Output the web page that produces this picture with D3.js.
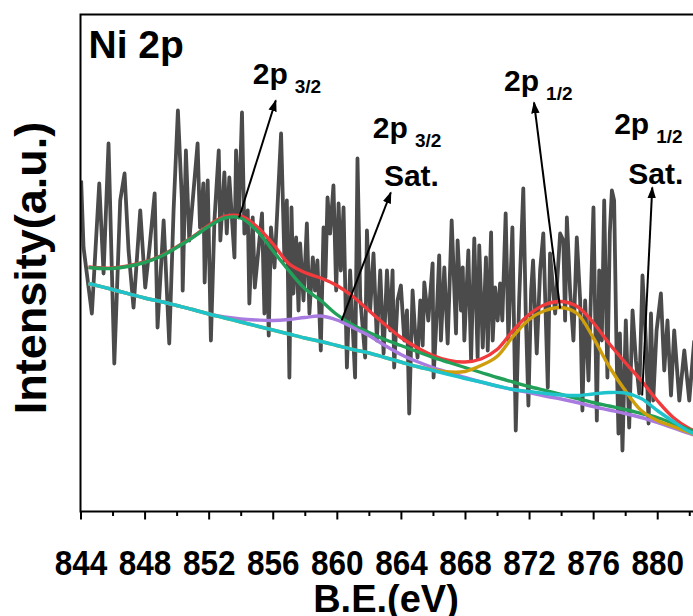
<!DOCTYPE html>
<html>
<head>
<meta charset="utf-8">
<script src="https://cdn.jsdelivr.net/npm/d3@7"></script>
<style>
  body { margin: 0; background: #fff; }
  svg { display: block; font-family: "Liberation Sans", Arial, sans-serif; font-weight: bold; }
</style>
</head>
<body>
<div class="chart"></div>
<script>
var width = 693
var height = 616
var margin = { left: 80.5, top: 14.5, bottom: 511.5 };

// raw spectrum, binding energy (eV) and intensity (a.u.)
var specE = [844.04, 844.19, 844.71, 845.17, 845.44, 845.75, 846.11, 846.48, 846.75, 847.0, 847.31, 847.73, 848.04, 848.29, 848.63, 848.81, 849.19, 849.54, 849.81, 850.08, 850.33,
  850.38, 850.58, 850.79, 851.31, 851.46, 851.67, 851.75, 851.94, 852.14, 852.36, 852.63, 852.73, 852.98, 853.13, 853.29, 853.61, 853.71, 853.88, 854.08, 854.23, 854.44, 854.54, 854.75, 854.88, 855.33, 855.48, 855.63, 855.75, 855.89, 856.11, 856.52, 856.73, 856.88,
  857.04, 857.17, 857.29, 857.46, 857.61, 857.71, 857.92, 858.13, 858.29, 858.5, 858.64, 858.79, 859.0, 859.17, 859.29, 859.42, 859.58, 859.79, 859.96, 860.11, 860.25, 860.42, 860.63, 860.83, 861.14, 861.29, 861.46, 861.77, 861.88, 862.08, 862.29, 862.5, 862.71, 862.92, 863.13, 863.33,
  863.48, 863.58, 863.79, 864.0, 864.21, 864.38, 864.52, 864.73, 864.88, 865.04, 865.21, 865.36, 865.46, 865.71, 865.98, 866.04, 866.25, 866.39, 866.5, 866.71, 866.92, 867.17, 867.44, 867.54, 867.75, 867.86, 867.96, 868.21, 868.38, 868.58, 868.79, 868.89, 869.11, 869.31, 869.42, 869.63, 869.73,
  869.88, 870.04, 870.19, 870.33, 870.54, 870.71, 870.96, 871.17, 871.38, 871.64, 871.79, 871.96, 872.13, 872.25, 872.48, 872.69, 872.89, 873.17, 873.31, 873.63, 873.94, 874.14, 874.25, 874.36, 874.56, 874.77, 874.98, 875.19, 875.33, 875.5, 875.71, 876.02, 876.23,
  876.38, 876.54, 876.69, 876.89, 877.04, 877.17, 877.31, 877.46, 877.58, 877.67, 877.83, 878.04, 878.25, 878.46, 878.67, 878.88, 879.08, 879.29, 879.46, 879.61, 879.75, 879.96, 880.23, 880.44, 880.64, 880.86, 881.06, 881.38, 881.69, 882.0, 882.31];
var specI = [662, 528, 396, 656, 476, 736, 296, 622, 676, 522, 408, 602, 448, 522, 636, 368, 582, 336, 602, 802, 622,
  442, 722, 542, 736, 568, 656, 458, 662, 342, 582, 722, 542, 678, 556, 668, 508, 722, 588, 798, 556, 602, 416, 588, 448, 596, 396, 542, 352, 568, 488, 756, 502, 622,
  268, 608, 436, 548, 402, 536, 422, 576, 396, 508, 442, 502, 322, 568, 468, 628, 556, 652, 442, 616, 482, 608, 288, 482, 268, 706, 428, 308, 562, 402, 516, 342, 482, 316, 482, 362,
  482, 288, 422, 452, 342, 402, 196, 442, 362, 308, 422, 332, 458, 382, 496, 268, 402, 512, 342, 488, 336, 582, 356, 542, 402, 488, 342, 522, 302, 546, 308, 532, 328, 508, 322, 558, 342,
  448, 382, 456, 382, 596, 342, 568, 162, 422, 646, 402, 212, 442, 502, 316, 482, 556, 248, 516, 396, 556, 542, 382, 588, 442, 342, 548, 422, 202, 422, 262, 608, 182,
  482, 342, 622, 268, 556, 642, 622, 322, 156, 356, 122, 382, 168, 402, 302, 236, 472, 342, 176, 396, 222, 362, 436, 282, 382, 232, 362, 222, 322, 222, 342];

// fitted curves, sampled on one energy grid
var fitE = [844.5, 846, 848, 849, 850, 851, 852, 853, 854, 855, 856, 857, 858, 859, 860, 861, 862, 863, 864, 865, 866, 867, 868, 869, 870, 871, 872, 873, 874, 875, 876, 877, 878, 879, 880, 881, 882, 882.5];
var envelope = [489, 487, 499, 511, 529, 549, 572, 590, 591, 570, 536, 496, 478, 467, 452, 430, 402, 374, 348, 328, 312, 302, 299, 305, 324, 362, 394, 414, 420, 410, 378, 336, 298, 262, 222, 188, 166, 160];
var p32 = [488, 486, 498, 510, 528, 548, 570, 587, 587, 562, 522, 482, 446, 422, 394, 373, 358, 344, 332, 320, 308, 298, 288, 278, 268, 259, 250, 242, 234, 226, 218, 211, 204, 196, 188, 176, 164, 158];
var p32sat = [456, 444, 427, 420, 412, 404, 395, 389, 385, 383, 382, 384, 388, 391, 383, 368, 352, 332, 314, 300, 288, 278, 268, 259, 251, 244, 238, 231, 225, 218, 210, 203, 196, 188, 178, 167, 156, 151];
var p12 = [456, 444, 427, 420, 412, 404, 395, 387, 379, 371, 363, 355, 347, 340, 332, 324, 317, 308, 299, 290, 283, 279, 280, 292, 310, 350, 384, 402, 408, 396, 348, 290, 242, 202, 182, 170, 158, 152];
var p12sat = [456, 444, 427, 420, 412, 404, 395, 387, 379, 371, 363, 355, 347, 340, 332, 324, 317, 308, 299, 290, 282, 274, 266, 259, 251, 244, 240, 236, 233, 232, 235, 238, 237, 226, 202, 180, 160, 154];

var fitNames = ["envelope", "p32", "p32sat", "p12", "p12sat"];
var fitSeries = [envelope, p32, p32sat, p12, p12sat];
var fitColors = ["#f03a3c", "#22a05a", "#a97ae0", "#cf9e0c", "#1ec3cb"];

var tickMajor = [844, 848, 852, 856, 860, 864, 868, 872, 876, 880];
var tickMinor = [846, 850, 854, 858, 862, 866, 870, 874, 878, 882];

// peak labels: text, sub, position of the text, arrow tail and head
var labelMain = ["2p", "2p", "2p", "2p"];
var labelSub = ["3/2", "3/2", "1/2", "1/2"];
var labelSecond = ["", "Sat.", "", "Sat."];
var labelAt = [[854.75, 856], [862.25, 748], [870.44, 842], [877.31, 756]];
var secondAt = [null, [862.94, 652], null, [878.19, 656]];
var arrowFrom = [[853.9, 588], [860.3, 382], [873.94, 406], [879.06, 232]];
var arrowTo = [[856.19, 822], [863.37, 638], [872.31, 818], [879.69, 648]];

var x = d3.scaleLinear().domain([844, 884]).range([margin.left, margin.left + 40 * 16.02]);
var y = d3.scaleLinear().domain([0, 994]).range([margin.bottom, margin.top]);

var svg = d3.select(".chart").append("svg")
    .attr("width", width)
    .attr("height", height);

svg.append("defs").append("marker")
    .attr("id", "head")
    .attr("viewBox", "0 0 10 10")
    .attr("refX", 9)
    .attr("refY", 5)
    .attr("markerWidth", 12)
    .attr("markerHeight", 12)
    .attr("markerUnits", "userSpaceOnUse")
    .attr("orient", "auto")
    .append("path")
    .attr("d", "M0,1.5 L10,5 L0,8.5 Z")
    .attr("fill", "#000");

svg.select("defs").append("clipPath")
    .attr("id", "plot")
    .append("rect")
    .attr("x", margin.left)
    .attr("y", margin.top)
    .attr("width", x(884) - margin.left)
    .attr("height", margin.bottom - margin.top);

var plot = svg.append("g").attr("clip-path", "url(#plot)");

var line = d3.line()
    .x(function(d) { return x(d[0]); })
    .y(function(d) { return y(d[1]); });

plot.append("path")
    .datum(d3.zip(specE, specI))
    .attr("d", line)
    .attr("fill", "none")
    .attr("stroke", "#4b4b4b")
    .attr("stroke-width", 3.8)
    .attr("stroke-linejoin", "round");

var smooth = d3.line()
    .curve(d3.curveCatmullRom)
    .x(function(d) { return x(d[0]); })
    .y(function(d) { return y(d[1]); });

fitSeries.forEach(function(s, i) {
  plot.append("path")
      .datum(d3.zip(fitE, s))
      .attr("class", "fit " + fitNames[i])
      .attr("d", smooth)
      .attr("fill", "none")
      .attr("stroke", fitColors[i])
      .attr("stroke-width", 3.4);
});

// frame
svg.append("rect")
    .attr("x", margin.left)
    .attr("y", margin.top)
    .attr("width", x(884) - margin.left)
    .attr("height", margin.bottom - margin.top)
    .attr("fill", "none")
    .attr("stroke", "#000")
    .attr("stroke-width", 2);

// bottom axis
var axisMajor = svg.append("g")
    .attr("transform", "translate(0," + margin.bottom + ")")
    .call(d3.axisBottom(x).tickValues(tickMajor).tickSize(8).tickFormat(d3.format("d")));
var axisMinor = svg.append("g")
    .attr("transform", "translate(0," + margin.bottom + ")")
    .call(d3.axisBottom(x).tickValues(tickMinor).tickSize(4.5).tickFormat(""));
svg.selectAll(".domain").remove();
svg.selectAll(".tick line").attr("stroke", "#000").attr("stroke-width", 2);
axisMajor.selectAll("text")
    .attr("fill", "#000")
    .attr("y", 0)
    .attr("dy", null)
    .attr("transform", "translate(0,63) scale(0.9,1)")
    .style("font-size", "35px")
    .style("font-weight", "bold")
    .style("font-family", "'Liberation Sans', Arial, sans-serif");

svg.append("text")
    .attr("x", 386)
    .attr("y", 612)
    .attr("text-anchor", "middle")
    .style("font-size", "38px")
    .text("B.E.(eV)");

svg.append("text")
    .attr("transform", "translate(46,268) rotate(-90)")
    .attr("text-anchor", "middle")
    .style("font-size", "45px")
    .text("Intensity(a.u.)");

svg.append("text")
    .attr("x", x(844.5))
    .attr("y", y(908))
    .style("font-size", "39px")
    .text("Ni 2p");

// peak labels and arrows
labelMain.forEach(function(t, i) {
  var lab = svg.append("text")
      .attr("x", x(labelAt[i][0]))
      .attr("y", y(labelAt[i][1]))
      .style("font-size", "30px")
      .text(t);
  lab.append("tspan")
      .attr("dx", 7)
      .attr("dy", 9)
      .style("font-size", "19px")
      .text(labelSub[i]);
  if (labelSecond[i]) {
    svg.append("text")
        .attr("x", x(secondAt[i][0]))
        .attr("y", y(secondAt[i][1]))
        .style("font-size", "30px")
        .text(labelSecond[i]);
  }
  svg.append("line")
      .attr("x1", x(arrowFrom[i][0]))
      .attr("y1", y(arrowFrom[i][1]))
      .attr("x2", x(arrowTo[i][0]))
      .attr("y2", y(arrowTo[i][1]))
      .attr("stroke", "#000")
      .attr("stroke-width", 2)
      .attr("marker-end", "url(#head)");
});
</script>
</body>
</html>
